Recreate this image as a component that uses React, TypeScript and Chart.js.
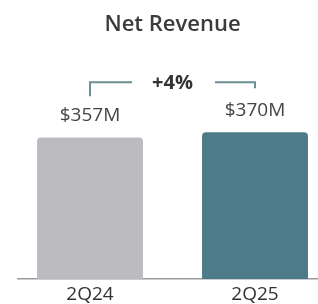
import React, { useEffect, useRef } from "react";
import { Chart, registerables } from "chart.js";

Chart.register(...registerables);

const categories = ["2Q24", "2Q25"];
const revenue = [357, 370];
const valueLabels = ["$357M", "$370M"];
const barColors = ["#bcbcc0", "#4d7b87"];
const titleText = "Net Revenue";

const FONT = '"Open Sans", "Noto Sans", sans-serif';

const annotationPlugin = {
  id: "annotations",
  afterDatasetsDraw(chart: any) {
    const ctx = chart.ctx;
    const meta = chart.getDatasetMeta(0);
    const bars = meta.data;
    if (!bars || bars.length < 2) return;
    ctx.save();
    // title
    ctx.fillStyle = "#3b3b3b";
    ctx.font = `600 22px ${FONT}`;
    ctx.textAlign = "center";
    ctx.textBaseline = "alphabetic";
    const titleX = (bars[0].x + bars[1].x) / 2;
    ctx.fillText(titleText, titleX, 31);

    // value labels
    ctx.font = `19px ${FONT}`;
    ctx.fillStyle = "#444444";
    bars.forEach((b: any, i: number) => {
      ctx.fillText(valueLabels[i], b.x, b.y - 16);
    });

    // bracket
    const topY = Math.min(bars[0].y, bars[1].y) - 50;
    ctx.strokeStyle = "#6b9095";
    ctx.lineWidth = 2;
    ctx.beginPath();
    ctx.moveTo(bars[0].x, topY + 14);
    ctx.lineTo(bars[0].x, topY);
    ctx.lineTo(bars[0].x + 42, topY);
    ctx.moveTo(bars[1].x - 40, topY);
    ctx.lineTo(bars[1].x, topY);
    ctx.lineTo(bars[1].x, topY + 6);
    ctx.stroke();

    // change text
    const pct = Math.round(((revenue[1] - revenue[0]) / revenue[0]) * 100);
    ctx.font = `bold 20px ${FONT}`;
    ctx.fillStyle = "#333333";
    ctx.fillText(`+${pct}%`, titleX, topY + 7);
    ctx.restore();
  },
};

export default function App() {
  const ref = useRef<HTMLCanvasElement | null>(null);
  useEffect(() => {
    if (!ref.current) return;
    const chart = new Chart(ref.current, {
      type: "bar",
      data: {
        datasets: [
          {
            data: categories.map((_, i) => ({ x: i, y: revenue[i] })),
            backgroundColor: barColors,
            borderRadius: { topLeft: 4, topRight: 4, bottomLeft: 0, bottomRight: 0 },
            borderSkipped: "bottom",
            categoryPercentage: 1,
            barPercentage: 0.642,
          },
        ],
      },
      options: {
        animation: false,
        responsive: false,
        devicePixelRatio: 1,
        layout: { padding: { top: 61, left: 18, right: 0, bottom: -6 } },
        plugins: { legend: { display: false }, title: { display: false }, tooltip: { enabled: false } },
        scales: {
          x: {
            type: "linear",
            offset: false,
            bounds: "data",
            min: -0.4364,
            max: 1.3818,
            afterBuildTicks: (scale: any) => {
              scale.ticks = categories.map((_, i) => ({ value: i }));
            },
            ticks: {
              callback: (v: any) => categories[v as number] ?? "",
              font: { family: FONT, size: 19, lineHeight: 1 },
              color: "#333333",
              padding: 6,
              maxRotation: 0,
              autoSkip: false,
            },
            grid: { display: false, drawTicks: false, offset: false },
            border: { display: true, color: "#9a9a9a", width: 1.5 },
          },
          y: {
            display: false,
            min: 0,
            max: 550,
          },
        },
      },
      plugins: [annotationPlugin],
    });
    return () => chart.destroy();
  }, []);
  return (
    <div style={{ position: "absolute", left: 0, top: 0, width: 318, height: 304, background: "#fff" }}>
      <canvas ref={ref} width={318} height={304} />
    </div>
  );
}
